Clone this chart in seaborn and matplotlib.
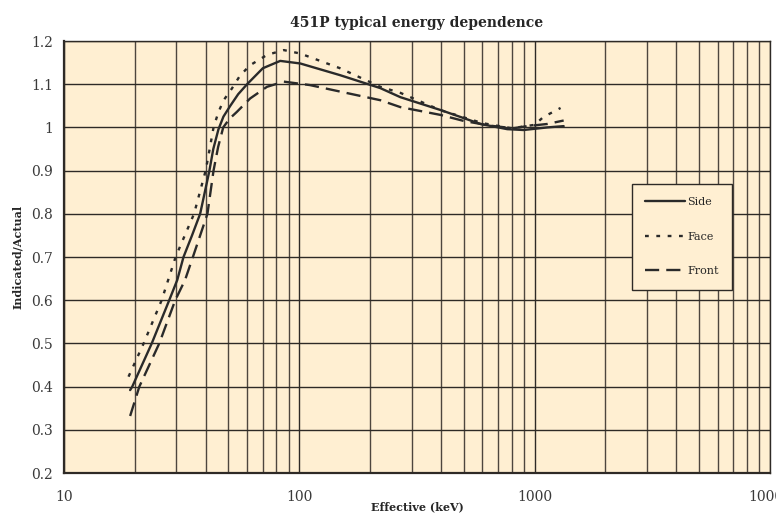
import matplotlib
matplotlib.use("Agg")
import matplotlib.pyplot as plt
import seaborn as sns
from matplotlib.ticker import FixedLocator, NullFormatter

# energies (keV) and response
side_kev = [19.1, 19.5, 23.6, 28, 30.3, 32.2, 35, 37.9, 41.5, 43.1, 45.3, 47.6, 50.9, 55, 60, 70, 83, 101, 149, 221, 269, 400, 589, 765, 898, 1133, 1330]
side_val = [0.392, 0.4, 0.5, 0.6, 0.647, 0.7, 0.75, 0.8, 0.9, 0.95, 0.995, 1.025, 1.05, 1.077, 1.1, 1.137, 1.154, 1.148, 1.121, 1.091, 1.07, 1.04, 1.008, 0.996, 0.994, 1.0, 1.003]

face_kev = [18.8, 21.8, 26, 29.8, 35.7, 40, 41.6, 43.2, 45.3, 47.7, 51.7, 56, 61.8, 73, 86, 101, 149, 221, 269, 398, 600, 800, 1000, 1090, 1290]
face_val = [0.423, 0.5, 0.6, 0.7, 0.8, 0.9, 0.95, 1.0, 1.035, 1.063, 1.09, 1.12, 1.144, 1.168, 1.179, 1.171, 1.137, 1.094, 1.08, 1.04, 1.01, 0.998, 1.006, 1.024, 1.045]

front_kev = [19.1, 20.9, 25.4, 29.7, 32.7, 35.3, 40.7, 43.2, 45.2, 47.5, 50.5, 54.3, 61.8, 72.9, 86, 111, 149, 221, 269, 398, 500, 650, 813, 930, 1133, 1330]
front_val = [0.332, 0.4, 0.5, 0.6, 0.647, 0.7, 0.8, 0.9, 0.955, 1.0, 1.02, 1.036, 1.067, 1.094, 1.106, 1.098, 1.083, 1.063, 1.047, 1.029, 1.015, 1.004, 0.998, 1.003, 1.008, 1.016]

y_ticks = [0.2, 0.3, 0.4, 0.5, 0.6, 0.7, 0.8, 0.9, 1.0, 1.1, 1.2]
y_labels = ["0.2", "0.3", "0.4", "0.5", "0.6", "0.7", "0.8", "0.9", "1", "1.1", "1.2"]
x_ticks = [10, 100, 1000, 10000]
x_labels = ["10", "100", "1000", "10000"]

sns.set_theme(style="white")
plt.rcParams['font.family'] = ['DejaVu Serif']

fig = plt.figure(figsize=(7.76, 5.16), dpi=100)
ax = fig.add_axes([0.0825, 0.0833, 0.9095, 0.8372])
ax.set_facecolor("#FFEFD2")

ink = "#2a2a2a"
sns.lineplot(x=side_kev, y=side_val, ax=ax, color=ink, lw=1.7, label="Side", sort=False)
sns.lineplot(x=face_kev, y=face_val, ax=ax, color=ink, lw=1.7, label="Face", sort=False,
             linestyle=(0, (1.6, 3.2)))
sns.lineplot(x=front_kev, y=front_val, ax=ax, color=ink, lw=1.7, label="Front", sort=False,
             linestyle=(0, (6, 3)))
for ln in ax.get_lines():
    ln.set_solid_joinstyle("round")
    ln.set_dash_joinstyle("round")

ax.set_xscale("log")
ax.set_xlim(10, 10000)
ax.set_ylim(0.2, 1.2)

ax.xaxis.set_major_locator(FixedLocator(x_ticks))
ax.set_xticklabels(x_labels)
minor = [m * d for d in (10, 100, 1000) for m in range(2, 10)]
ax.xaxis.set_minor_locator(FixedLocator(minor))
ax.xaxis.set_minor_formatter(NullFormatter())
ax.set_yticks(y_ticks)
ax.set_yticklabels(y_labels)

ax.grid(True, which="major", axis="both", color="#2e2a26", lw=1.0)
ax.grid(True, which="minor", axis="x", color="#4e463e", lw=1.0)
ax.set_axisbelow(True)

for s in ax.spines.values():
    s.set_color("#2e2a26")
    s.set_linewidth(1.0)
ax.spines["left"].set_linewidth(1.6)
ax.spines["bottom"].set_linewidth(1.6)

ax.tick_params(axis="both", which="major", direction="out", length=4, width=1,
               color="#2e2a26", labelsize=10, labelcolor="#3a3a3a", pad=8)
ax.tick_params(axis="y", which="major", pad=4)
ax.tick_params(axis="x", which="minor", length=0)

ax.set_title("451P typical energy dependence", fontsize=10, fontweight="bold", pad=10)
ax.set_xlabel("Effective (keV)", fontsize=8, fontweight="bold", labelpad=-2)
ax.set_ylabel("Indicated/Actual", fontsize=8, fontweight="bold", labelpad=6)

leg = ax.legend(loc="upper left", bbox_to_anchor=(0.8045, 0.669), fontsize=8,
                frameon=True, fancybox=False, handlelength=3.6, handletextpad=0.2,
                labelspacing=2.2, borderpad=1.2, borderaxespad=0)
leg.get_frame().set_facecolor("#FFEFD2")
leg.get_frame().set_edgecolor("#2e2a26")
leg.get_frame().set_linewidth(1.0)
leg.get_frame().set_alpha(1)

fig.savefig("out.png", dpi=100)
